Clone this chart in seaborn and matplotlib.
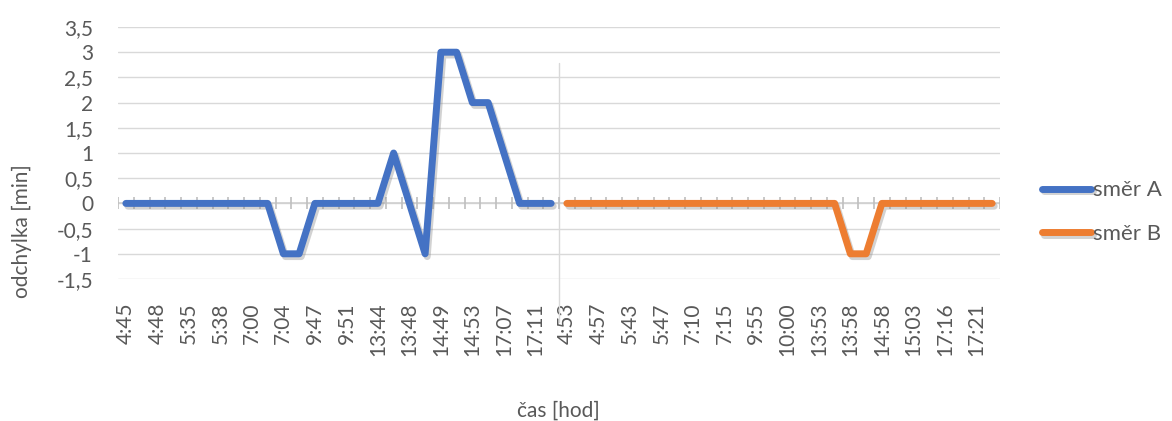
import numpy as np
import pandas as pd
import matplotlib
matplotlib.use("Agg")
import matplotlib.pyplot as plt
import matplotlib.patheffects as pe
import seaborn as sns

# Stop times for each direction (every second stop is labelled on the axis)
labels_a = ["4:45", "4:48", "5:35", "5:38", "7:00", "7:04", "9:47",
            "9:51", "13:44", "13:48", "14:49", "14:53", "17:07", "17:11"]
labels_b = ["4:53", "4:57", "5:43", "5:47", "7:10", "7:15", "9:55",
            "10:00", "13:53", "13:58", "14:58", "15:03", "17:16", "17:21"]

# Deviation from timetable [min] at each stop
dev_a = [0, 0, 0, 0, 0, 0, 0, 0, 0, 0, -1, -1, 0, 0,
         0, 0, 0, 1, 0, -1, 3, 3, 2, 2, 1, 0, 0, 0]
dev_b = [0, 0, 0, 0, 0, 0, 0, 0, 0, 0, 0, 0, 0, 0,
         0, 0, 0, 0, -1, -1, 0, 0, 0, 0, 0, 0, 0, 0]

series_names = ["směr A", "směr B"]
colors = ["#4472C4", "#ED7D31"]
text_color = "#595959"
fs = 15

n_a, n_b = len(dev_a), len(dev_b)
n_total = n_a + n_b

df = pd.DataFrame({
    "pos": list(range(n_a)) + list(range(n_a, n_total)),
    "odchylka": dev_a + dev_b,
    "smer": [series_names[0]] * n_a + [series_names[1]] * n_b,
})

sns.set_style("white")
plt.rcParams["font.family"] = ["Lato", "DejaVu Sans"]

W, H = 1172, 421
fig = plt.figure(figsize=(W / 100, H / 100), dpi=100)
ax = fig.add_axes([118 / W, 1 - 279 / H, (1000 - 118) / W, 252 / H])

shadow = [pe.SimpleLineShadow(offset=(1.5, -2.0), shadow_color="#7f7f7f", alpha=0.35),
          pe.Normal()]

sns.lineplot(data=df, x="pos", y="odchylka", hue="smer", palette=colors,
             linewidth=5, ax=ax, legend=False, sort=False,
             solid_capstyle="round", solid_joinstyle="round", zorder=5)
for line in ax.get_lines():
    line.set_path_effects(shadow)
ax.set_xlabel("")
ax.set_ylabel("")

ax.set_xlim(-0.5, n_total - 0.5)
ax.set_ylim(-1.5, 3.5)

# Horizontal gridlines
yticks = np.arange(-1.5, 3.51, 0.5)
ax.set_yticks(yticks)
ax.set_yticklabels([("%g" % v).replace(".", ",") for v in yticks],
                   color=text_color, fontsize=fs)
for v in yticks:
    ax.axhline(v, color="#D9D9D9", linewidth=1.0, zorder=1)

# Category axis at zero with cross tick marks
boundaries = np.arange(-0.5, n_total, 1.0)
ax.axhline(0, color="#D0D0D0", linewidth=1.2, zorder=2)
ax.vlines(boundaries, -0.12, 0.12, color="#BFBFBF", linewidth=1.2, zorder=2)

# Separator between the two directions
ax.axvline(n_a - 0.5, ymin=(279 - 322) / 252, ymax=(279 - 63) / 252,
           color="#D9D9D9", linewidth=1.0, clip_on=False, zorder=1)

xt = list(range(0, n_a, 2)) + list(range(n_a, n_total, 2))
ax.set_xticks(xt)
ax.set_xticklabels(labels_a + labels_b, rotation=90, color=text_color,
                   fontsize=fs)
ax.tick_params(axis="both", length=0)
ax.tick_params(axis="y", pad=18)
ax.tick_params(axis="x", pad=17)

for s in ax.spines.values():
    s.set_visible(False)

fig.text(558 / W, 1 - 411 / H, "čas [hod]", color=text_color, fontsize=fs,
         ha="center", va="center")
fig.text(22 / W, 1 - 231 / H, "odchylka [min]", color=text_color, fontsize=fs,
         ha="center", va="center", rotation=90)

# Legend on the right
handles = [plt.Line2D([], [], color=c, linewidth=5, solid_capstyle="round",
                      path_effects=shadow) for c in colors]
leg = fig.legend(handles, series_names, loc="center left",
                 bbox_to_anchor=(1042 / W, 1 - 212 / H), borderpad=0,
                 borderaxespad=0, frameon=False, fontsize=16,
                 handlelength=2.2, handletextpad=0.1, labelspacing=1.05,
                 labelcolor=text_color)

fig.savefig("out.png", dpi=100)
